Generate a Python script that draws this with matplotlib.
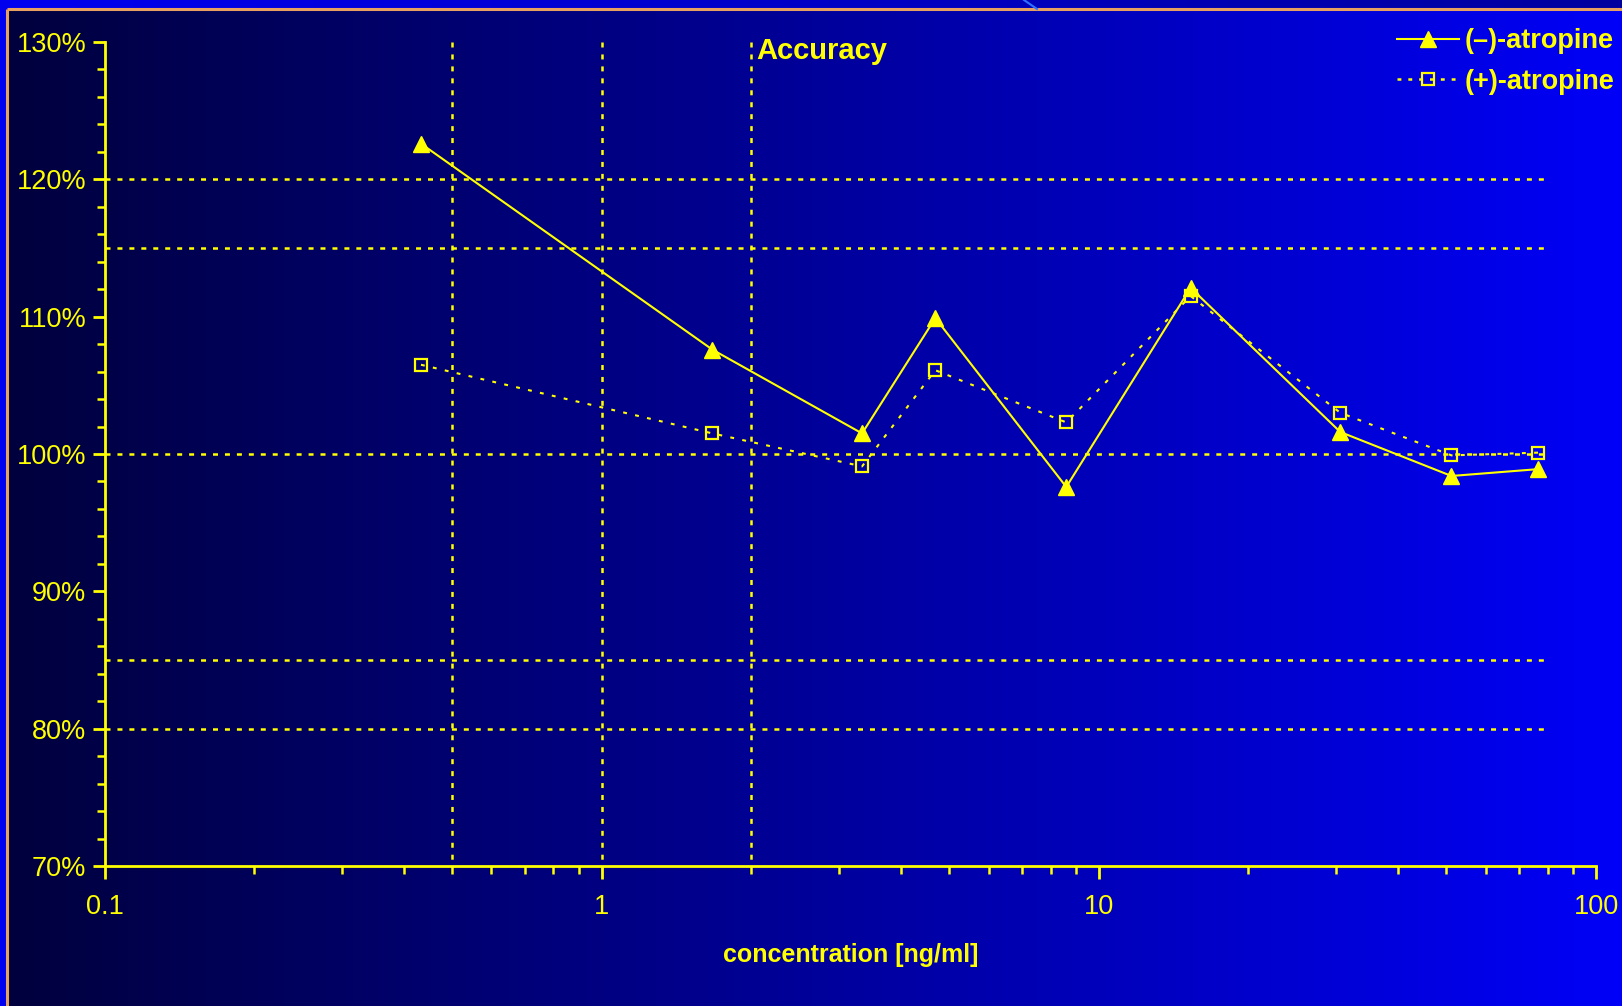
import numpy as np
import matplotlib
matplotlib.use("Agg")
import matplotlib.pyplot as plt
from matplotlib.ticker import PercentFormatter, FixedLocator, LogLocator, NullFormatter, MultipleLocator
from matplotlib.lines import Line2D

plt.rcParams['font.family'] = ['Liberation Sans', 'DejaVu Sans']
plt.rcParams['lines.scale_dashes'] = False

# Data: concentration levels and measured accuracy (%)
concentration = [0.433, 1.67, 3.34, 4.69, 8.6, 15.3, 30.6, 51.2, 76.6]
minus_atropine = [122.6, 107.6, 101.5, 109.9, 97.6, 112.1, 101.6, 98.4, 98.9]
plus_atropine = [106.5, 101.5, 99.1, 106.1, 102.3, 111.5, 103.0, 99.9, 100.1]
series_labels = ['(\u2013)-atropine', '(+)-atropine']

# Acceptance limits and reference concentrations
limit_levels = [120, 115, 100, 85, 80]
limit_span = [0.1, 80.5]
ref_concentrations = [0.5, 1, 2]

x_ticks = [0.1, 1, 10, 100]
x_ticklabels = ['0.1', '1', '10', '100']

YEL = '#FFFF00'
W, H, DPI = 1622, 1006, 100

fig = plt.figure(figsize=(W / DPI, H / DPI), dpi=DPI)
fig.patch.set_facecolor('#0000F0')

# Slide background: frame with horizontal navy-to-blue gradient
bg = fig.add_axes([0, 0, 1, 1], zorder=0)
bg.set_xlim(0, W)
bg.set_ylim(H, 0)
bg.axis('off')
grad = np.linspace(0, 1, 512)[None, :]
cols = np.zeros((1, 512, 3))
cols[..., 2] = 0.24 + 0.73 * grad
bg.imshow(cols, extent=[7, W, H, 9], aspect='auto', interpolation='bicubic')
top = np.zeros((1, 512, 3))
top[..., 2] = 0.94 - 0.32 * grad
bg.imshow(top, extent=[0, W, 9, 0], aspect='auto', interpolation='bicubic')
bg.plot([7, 7], [9, H], color='#E8A060', lw=2.2, solid_capstyle='butt')
bg.plot([7, W], [9, 9], color='#E8A060', lw=2.2, solid_capstyle='butt')
bg.plot([1024, 1037], [0, 9], color='#3070FF', lw=1.5)

# Main plot
left, right = 104.5, 1596
ytop, ybot = 42, 866
ax = fig.add_axes([left / W, (H - ybot) / H, (right - left) / W, (ybot - ytop) / H], zorder=1)
ax.patch.set_alpha(0)
ax.set_xscale('log')
ax.set_xlim(0.1, 100)
ax.set_ylim(70, 130)

grid_kw = dict(color=YEL, lw=1.8, dashes=(3.6, 5.0), zorder=2)
for lv in limit_levels:
    ax.plot(limit_span, [lv, lv], **grid_kw)
for xc in ref_concentrations:
    ax.plot([xc, xc], [130, 70], **grid_kw)

ax.plot(concentration, minus_atropine, color=YEL, lw=1.5, marker='^', ms=11,
        mfc=YEL, mec=YEL, zorder=4, label=series_labels[0])
ax.plot(concentration, plus_atropine, color=YEL, lw=1.5, dashes=(2.8, 6.0), marker='s', ms=8.5,
        mfc='none', mec=YEL, mew=1.6, zorder=3, label=series_labels[1])

for s in ['top', 'right']:
    ax.spines[s].set_visible(False)
for s in ['left', 'bottom']:
    ax.spines[s].set_color(YEL)
    ax.spines[s].set_linewidth(2)

ax.yaxis.set_major_locator(MultipleLocator(10))
ax.yaxis.set_minor_locator(MultipleLocator(2))
ax.yaxis.set_major_formatter(PercentFormatter(100, decimals=0))
ax.xaxis.set_major_locator(FixedLocator(x_ticks))
ax.set_xticklabels(x_ticklabels)
ax.xaxis.set_minor_locator(LogLocator(base=10, subs=np.arange(2, 10)))
ax.xaxis.set_minor_formatter(NullFormatter())

ax.tick_params(which='major', length=9, width=2, color=YEL, labelcolor=YEL, labelsize=19.5)
ax.tick_params(which='minor', length=6, width=1.8, color=YEL)
ax.tick_params(axis='x', which='major', pad=11)
ax.tick_params(axis='y', which='major', pad=4)

ax.set_xlabel('concentration [ng/ml]', color=YEL, fontsize=18, fontweight='bold', labelpad=17)

fig.text(756 / W, 1 - 51 / H, 'Accuracy', color=YEL, fontsize=21, fontweight='bold',
         ha='left', va='center')

handles = [
    Line2D([], [], color=YEL, lw=1.5, marker='^', ms=11, mfc=YEL, mec=YEL),
    Line2D([], [], color=YEL, lw=1.8, dashes=(2.8, 5.0), marker='s', ms=8.5, mfc='none', mec=YEL, mew=1.6),
]
leg = fig.legend(handles, series_labels, loc='upper right', bbox_to_anchor=(1614 / W, 1 - 28 / H),
                 frameon=False, borderpad=0, borderaxespad=0, handlelength=2.3, handletextpad=0.2,
                 labelspacing=0.55, prop=dict(size=19.5, weight='bold'))
for t in leg.get_texts():
    t.set_color(YEL)

fig.savefig('out.png', dpi=DPI)
